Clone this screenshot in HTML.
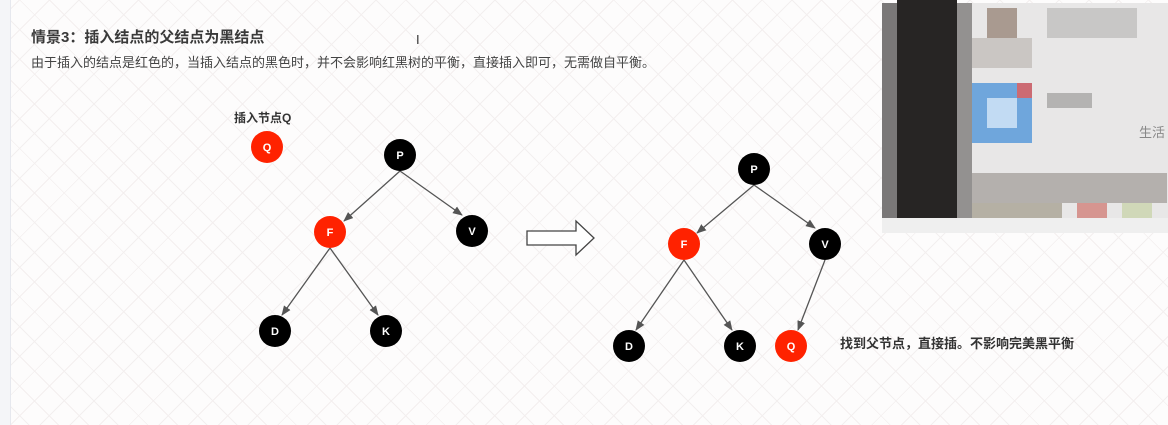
<!DOCTYPE html>
<html><head><meta charset="utf-8"><style>
body{margin:0;width:1168px;height:425px;overflow:hidden;background:#fdfcfc;font-family:"Liberation Sans","Noto Sans CJK SC",sans-serif;position:relative}
.bg{position:absolute;inset:0;background-image:repeating-linear-gradient(45deg,transparent 0 20px,#f3efef 20px 21px),repeating-linear-gradient(-45deg,transparent 0 20px,#f3efef 20px 21px)}
.t{position:absolute;color:#333;white-space:nowrap}
</style></head><body>
<div class="bg"></div>
<div style="position:absolute;left:0;top:0;width:10px;height:425px;background:#f4f5f8;border-right:1px solid #e6e8ee"></div>
<div class="t" style="left:31px;top:26px;font-size:15px;font-weight:bold;color:#3a3a3a">情景3：插入结点的父结点为黑结点</div>
<div class="t" style="left:31px;top:52px;font-size:13px;color:#444">由于插入的结点是红色的，当插入结点的黑色时，并不会影响红黑树的平衡，直接插入即可，无需做自平衡。</div>
<div class="t" style="left:416px;top:32px;font-size:13px">I</div>
<svg style="position:absolute;left:0;top:0" width="1168" height="425">
<defs><marker id="a" markerWidth="10" markerHeight="8" refX="9" refY="4" orient="auto" markerUnits="userSpaceOnUse"><path d="M0,0L10,4L0,8z" fill="#555"/></marker></defs>
<g stroke="#555" stroke-width="1.3" fill="none" marker-end="url(#a)">
<line x1="400" y1="171" x2="344" y2="221"/><line x1="400" y1="171" x2="462" y2="215"/>
<line x1="330" y1="248" x2="282" y2="315"/><line x1="330" y1="248" x2="378" y2="315"/>
<line x1="754" y1="185" x2="697" y2="233"/><line x1="754" y1="185" x2="815" y2="228"/>
<line x1="684" y1="260" x2="636" y2="330"/><line x1="684" y1="260" x2="732" y2="330"/>
<line x1="825" y1="260" x2="798" y2="330"/>
</g>
<path d="M527,231H576V221L594,238L576,255V245H527Z" fill="#fff" stroke="#444" stroke-width="1.3"/>
<g font-size="11" font-weight="bold" fill="#fff" text-anchor="middle" font-family="Liberation Sans">
<circle cx="267" cy="147" r="16" fill="#ff2200"/><text x="267" y="151">Q</text>
<circle cx="400" cy="155" r="16" fill="#000"/><text x="400" y="159">P</text>
<circle cx="330" cy="232" r="16" fill="#ff2200"/><text x="330" y="236">F</text>
<circle cx="472" cy="231" r="16" fill="#000"/><text x="472" y="235">V</text>
<circle cx="275" cy="331" r="16" fill="#000"/><text x="275" y="335">D</text>
<circle cx="386" cy="331" r="16" fill="#000"/><text x="386" y="335">K</text>
<circle cx="754" cy="169" r="16" fill="#000"/><text x="754" y="173">P</text>
<circle cx="684" cy="244" r="16" fill="#ff2200"/><text x="684" y="248">F</text>
<circle cx="825" cy="244" r="16" fill="#000"/><text x="825" y="248">V</text>
<circle cx="629" cy="346" r="16" fill="#000"/><text x="629" y="350">D</text>
<circle cx="740" cy="346" r="16" fill="#000"/><text x="740" y="350">K</text>
<circle cx="791" cy="346" r="16" fill="#ff2200"/><text x="791" y="350">Q</text>
</g>
</svg>
<div class="t" style="left:234px;top:109px;font-size:12px;font-weight:bold">插入节点Q</div>
<div class="t" style="left:840px;top:333px;font-size:13px;font-weight:bold">找到父节点，直接插。不影响完美黑平衡</div>
<div style="position:absolute;left:882px;top:3px;width:286px;height:219px;background:#e8e7e7"></div>
<div style="position:absolute;left:882px;top:3px;width:15px;height:215px;background:#7a7878"></div>
<div style="position:absolute;left:897px;top:0;width:60px;height:218px;background:#272524"></div>
<div style="position:absolute;left:957px;top:3px;width:15px;height:215px;background:#939190"></div>
<div style="position:absolute;left:882px;top:218px;width:286px;height:15px;background:#efefef"></div>
<div style="position:absolute;left:972px;top:83px;width:60px;height:60px;background:#6fa6dc"></div>
<div style="position:absolute;left:987px;top:98px;width:30px;height:30px;background:#c2dbf3"></div>
<div style="position:absolute;left:1017px;top:83px;width:15px;height:15px;background:#cc6b73"></div>
<div style="position:absolute;left:987px;top:8px;width:30px;height:30px;background:#a99a90"></div>
<div style="position:absolute;left:1047px;top:8px;width:90px;height:30px;background:#c8c7c6"></div>
<div style="position:absolute;left:972px;top:38px;width:60px;height:30px;background:#cac6c3"></div>
<div style="position:absolute;left:1047px;top:93px;width:45px;height:15px;background:#b4b3b2"></div>
<div style="position:absolute;left:972px;top:173px;width:195px;height:30px;background:#b4b0ad"></div>
<div style="position:absolute;left:1077px;top:203px;width:30px;height:15px;background:#d69590"></div>
<div style="position:absolute;left:1122px;top:203px;width:30px;height:15px;background:#d0d8b8"></div>
<div style="position:absolute;left:972px;top:203px;width:90px;height:15px;background:#b5b0a4"></div>
<div class="t" style="left:1139px;top:122px;font-size:13px;color:#888">生活</div>
</body></html>
